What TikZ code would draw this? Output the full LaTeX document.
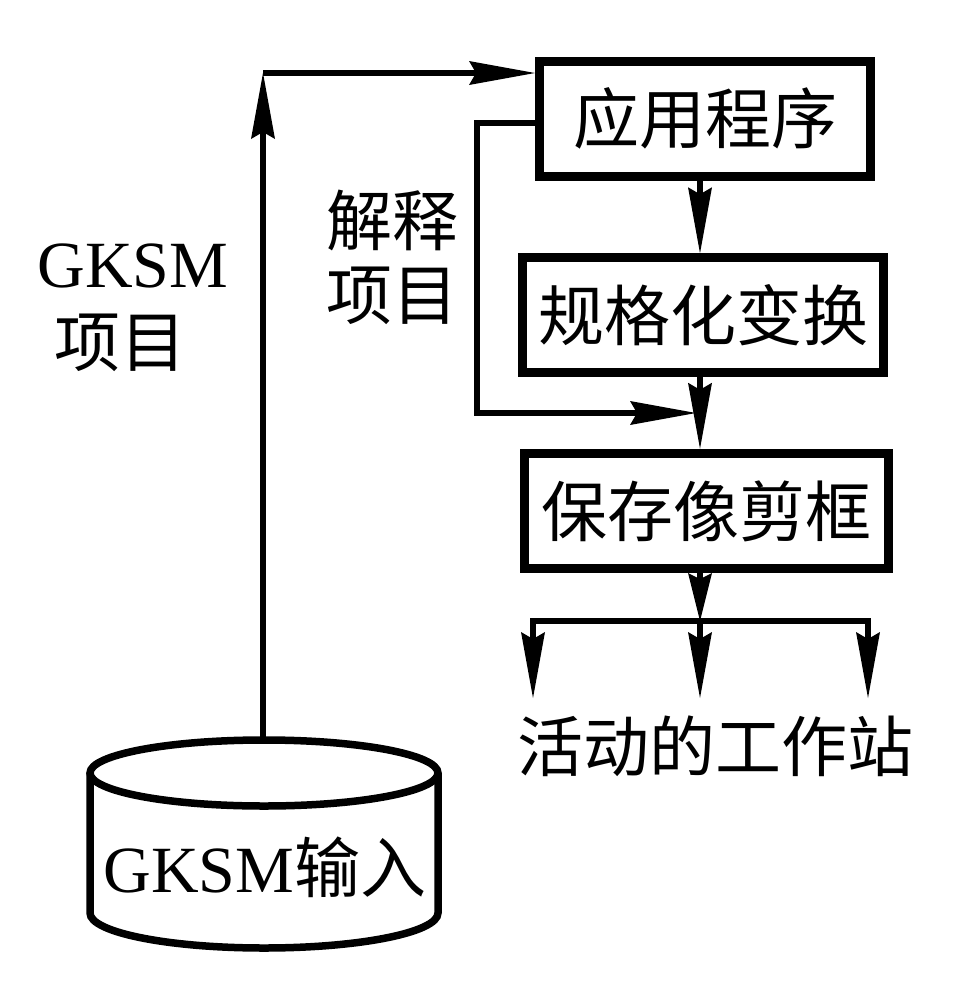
\documentclass[tikz,border=0pt]{standalone}
\usepackage{fontspec}
\setmainfont{Liberation Serif}
\newfontfamily\cjk{Noto Sans CJK SC}
\usetikzlibrary{arrows.meta}
\begin{document}
\begin{tikzpicture}[x=1pt,y=-1pt,
  conn/.style={line width=5.5pt},
  >={Stealth[length=66pt,width=24pt,inset=7pt,line width=0pt]},
  short/.style={-{Stealth[length=48pt,width=24pt,inset=6pt,line width=0pt]}},
  box/.style={draw,line width=9pt,inner sep=0pt,font=\fontsize{66pt}{74pt}\selectfont\cjk},
  lbl/.style={inner sep=0pt,font=\fontsize{66pt}{74pt}\selectfont},
  cyl/.style={line width=7.5pt}
]
\useasboundingbox (0,0) rectangle (957,991);

% boxes
\node[box,minimum width=331pt,minimum height=115pt] (app)  at (705,118.5) {应用程序};
\node[box,minimum width=361.5pt,minimum height=114.5pt] (norm) at (703,315) {规格化变换};
\node[box,minimum width=364pt,minimum height=115.5pt] (save) at (706,511) {保存像剪框};

% cylinder
\draw[cyl] (264,773) ellipse [x radius=174, y radius=33];
\draw[cyl] (90,773) -- (90,913) arc[start angle=180, end angle=0, x radius=174, y radius=35] -- (438,773);
\node[lbl,anchor=base] (gin) at (265,892) {GKSM{\cjk 输入}};

% labels
\node[lbl,anchor=base] (gk1) at (133,287) {GKSM};
\node[lbl,font=\fontsize{66pt}{74pt}\selectfont\cjk] (gk2) at (120,343) {项目};
\node[lbl,align=center,font=\fontsize{66pt}{74pt}\selectfont\cjk] (interp) at (392,257) {解释\\项目};
\node[lbl,font=\fontsize{66pt}{74pt}\selectfont\cjk] (ws) at (715,746) {活动的工作站};

% coordinates
\coordinate (cyltop) at (263,740);
\coordinate (c1) at (263,73);
\coordinate (c2) at (477,413);
\coordinate (j) at (700,413);
\coordinate (f1) at (533,621);
\coordinate (f2) at (700,621);
\coordinate (f3) at (868,621);
\coordinate (d1) at (533,698);
\coordinate (d2) at (700,698);
\coordinate (d3) at (868,698);

% connectors
\draw[conn,->] (cyltop) -- (c1);
\draw[conn,->] (c1) -- (c1 -| app.west);
\draw[conn,->,shorten >=4pt] ([yshift=-4.5pt]app.west) -| (c2) -- (j);
\draw[conn,->] (app.south -| j) -- (norm.north -| j);
\draw[conn,->] (norm.south -| j) -- (save.north -| j);
\draw[conn,short] (save.south -| j) -- (f2);
\draw[conn,line cap=rect] (f1) -- (f3);
\draw[conn,->] (f1) -- (d1);
\draw[conn,->] (f2) -- (d2);
\draw[conn,->] (f3) -- (d3);
\end{tikzpicture}
\end{document}
